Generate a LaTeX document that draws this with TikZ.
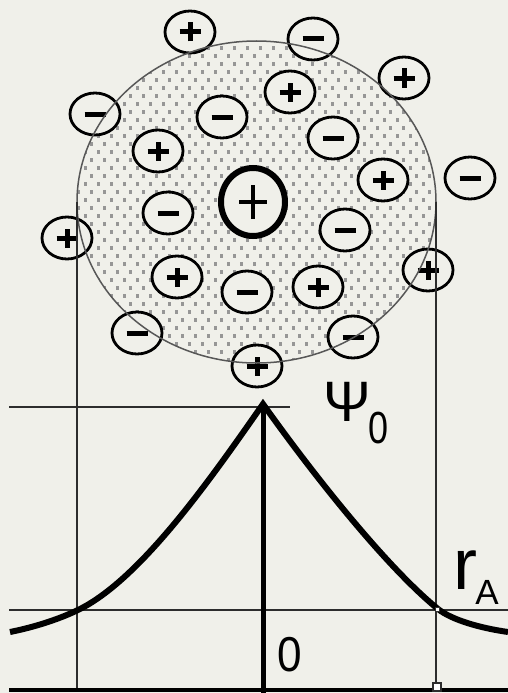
\documentclass[tikz,border=0pt]{standalone}
\usepackage{fontspec}
\setmainfont{Liberation Sans}
\usetikzlibrary{shapes.geometric}
\definecolor{bg}{RGB}{240,240,234}
\definecolor{dotc}{RGB}{150,150,150}
\definecolor{ln}{RGB}{45,45,45}
\tikzset{
  ion/.style={ellipse, draw=black, line width=2.8pt, fill=bg, minimum width=50pt, minimum height=42pt, inner sep=0pt},
  posion/.style={ion, path picture={
     \draw[line width=5pt] ([xshift=-10.5pt]path picture bounding box.center) -- ([xshift=10.5pt]path picture bounding box.center);
     \draw[line width=5pt] ([yshift=-9.5pt]path picture bounding box.center) -- ([yshift=9.5pt]path picture bounding box.center);}},
  negion/.style={ion, path picture={
     \draw[line width=5pt] ([xshift=-10.5pt]path picture bounding box.center) -- ([xshift=10.5pt]path picture bounding box.center);}},
  bigpos/.style={ellipse, draw=black, line width=6pt, fill=bg, minimum width=64pt, minimum height=68pt, inner sep=0pt, path picture={
     \draw[line width=3.6pt] ([xshift=-14pt]path picture bounding box.center) -- ([xshift=14pt]path picture bounding box.center);
     \draw[line width=3.6pt] ([yshift=-17pt]path picture bounding box.center) -- ([yshift=17pt]path picture bounding box.center);}},
  thinln/.style={draw=ln, line width=1.8pt},
  thickln/.style={draw=black, line width=4.5pt},
  curveln/.style={draw=black, line width=6pt, line join=miter},
  lbl/.style={inner sep=0pt, text=black}
}
\begin{document}
\begin{tikzpicture}[x=1pt, y=-1pt]
\fill[bg] (0,0) rectangle (508,693);
\useasboundingbox (0,0) rectangle (508,693);
% dotted sphere
\begin{scope}
  \clip (256.5,202) ellipse [x radius=179.5, y radius=161];
  \foreach \j in {0,...,41} {
    \foreach \i in {0,...,28} {
      \pgfmathsetmacro\xx{72+13*\i+6.5*mod(\j,2)}
      \pgfmathsetmacro\yy{40+8*\j}
      \fill[dotc] (\xx-1.5,\yy-1.8) rectangle ++(3,3.6);
    }
  }
\end{scope}
% coordinates of the graph
\coordinate (apex) at (263,404);
\coordinate (tl) at (9,407);
\coordinate (tr) at (290,407);
\coordinate (ml) at (9,610);
\coordinate (mr) at (508,610);
\coordinate (bl) at (9,690);
\coordinate (br) at (508,690);
\coordinate (axb) at (263,693);
\coordinate (lt) at (77,202);
\coordinate (lb) at (77,690);
\coordinate (rt) at (436,202);
\coordinate (rb) at (436,690);
\coordinate (cl) at (78,610);
\coordinate (cle) at (10,632);
\coordinate (cr) at (438,609);
\coordinate (cre) at (508,632);
% ions
\node[posion] (p1) at (190,32) {};
\node[negion] (n1) at (313,39) {};
\node[posion] (p2) at (404,78) {};
\node[posion] (p3) at (290,92) {};
\node[negion] (n2) at (95,114) {};
\node[negion] (n3) at (222,117) {};
\node[negion] (n4) at (333,138) {};
\node[posion] (p4) at (158,151) {};
\node[posion] (p5) at (383,180) {};
\node[negion] (n5) at (470,178) {};
\node[negion] (n6) at (168,213) {};
\node[negion] (n7) at (345,230) {};
\node[posion] (p6) at (67,238) {};
\node[posion] (p7) at (177,277) {};
\node[negion] (n8) at (247,292) {};
\node[posion] (p8) at (318,287) {};
\node[posion] (p9) at (428,270) {};
\node[negion] (n9) at (137,333) {};
\node[negion] (n10) at (353,337) {};
\node[posion] (p10) at (257,366) {};
\node[bigpos] (core) at (253,202) {};
% sphere outline
\draw[draw=ln!80, line width=1.5pt] (256.5,202) ellipse [x radius=179.5, y radius=161];
% graph lines
\draw[thinln] (tl) -- (tr);
\draw[thinln] (ml) -- (mr);
\draw[thinln] (lt) -- (lb);
\draw[thinln] (rt) -- (rb);
\draw[thickln] (bl) -- (br);
\draw[draw=black, line width=5pt] (apex) -- (axb);
\draw[curveln] (cle) .. controls (30,628) and (55,621) .. (cl)
  .. controls (140,580) and (210,480) .. (apex)
  .. controls (320,484) and (390,570) .. (cr)
  .. controls (452,620) and (480,628) .. (cre);
\node[draw=ln, fill=white, line width=0.8pt, minimum size=4pt, inner sep=0pt] (m1) at (437,609) {};
\node[draw=ln, fill=white, line width=1.2pt, minimum size=8pt, inner sep=0pt] (m2) at (437,687) {};
% labels
\node[lbl, font=\fontsize{57}{57}\selectfont] (psi) at (347,402) {Ψ};
\node[lbl, font=\fontsize{45}{45}\selectfont, xscale=0.8] (psi0) at (379,428) {0};
\node[lbl, font=\fontsize{49}{49}\selectfont, xscale=0.9] (zero) at (290,655) {0};
\node[lbl, font=\fontsize{72}{72}\selectfont] (r) at (465,570) {r};
\node[lbl, font=\fontsize{35}{35}\selectfont] (rA) at (487,592) {A};
\end{tikzpicture}
\end{document}
